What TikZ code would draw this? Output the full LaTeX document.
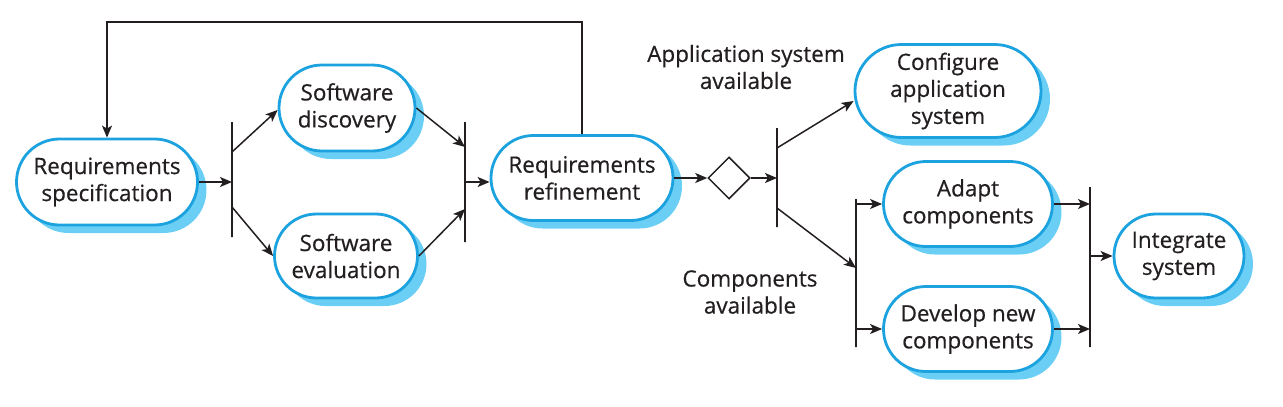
\documentclass[tikz,border=0pt]{standalone}
\usepackage{fontspec}
\setmainfont{Open Sans}
\newfontfamily\pf{Open Sans}[FakeBold=0.5]
\usetikzlibrary{shapes.misc,shapes.geometric,shadows,arrows.meta}
\definecolor{pillblue}{HTML}{1CA3DF}
\definecolor{shadblue}{HTML}{6BCEF5}
\definecolor{ink}{HTML}{231F20}
\tikzset{
  pill/.style={rounded rectangle, draw=pillblue, line width=2.8pt, fill=white,
    align=center, inner sep=0pt, text=ink,
    font=\pf\fontsize{22.5}{27}\selectfont,
    drop shadow={shadow xshift=9pt, shadow yshift=-8pt, fill=shadblue, opacity=1}},
  barnode/.style={draw=ink, line width=1.5pt, inner sep=0pt, outer sep=0pt,
    minimum width=0pt, minimum height=#1},
  arr/.style={draw=ink, line width=1.5pt, -{Stealth[length=12pt,width=10pt,inset=3pt]}},
  lab/.style={align=center, text=ink, font=\pf\fontsize{22.5}{27}\selectfont}
}
\begin{document}
\begin{tikzpicture}[x=1pt,y=-1pt]
\useasboundingbox (0,0) rectangle (1283,407);
% nodes
\node[pill, minimum width=181pt, minimum height=86pt] (rs) at (107,182) {Requirements\\specification};
\node[pill, minimum width=136pt, minimum height=86pt] (sd) at (347,108) {Software\\discovery};
\node[pill, minimum width=143pt, minimum height=84pt] (se) at (346,256) {Software\\evaluation};
\node[pill, minimum width=182pt, minimum height=85pt] (rr) at (582,178) {Requirements\\refinement};
\node[diamond, draw=ink, line width=1.5pt, fill=white, inner sep=0pt, minimum width=42pt, minimum height=42pt] (dm) at (729,178) {};
\node[pill, minimum width=186pt, minimum height=93pt] (ca) at (948,91) {Configure\\application\\system};
\node[pill, minimum width=169pt, minimum height=85pt] (ac) at (968,204) {Adapt\\components};
\node[pill, minimum width=169pt, minimum height=85pt] (dc) at (968,329) {Develop new\\components};
\node[pill, minimum width=130pt, minimum height=84pt] (is) at (1179,256) {Integrate\\system};
% bars
\node[barnode=115pt] (b1) at (232,179.5) {};
\node[barnode=120pt] (b2) at (465,182) {};
\node[barnode=99pt] (b3) at (777,177.5) {};
\node[barnode=148pt] (b4) at (856,273) {};
\node[barnode=160pt] (b5) at (1090,267) {};
% labels
\node[lab] (l1) at (746,67) {Application system\\available};
\node[lab] (l2) at (750,292) {Components\\available};
% connectors
\draw[arr] (rs.east) -- (rs.east -| b1.center);
\draw[arr] ([yshift=27.5pt]b1.center) -- ([yshift=-2pt]sd.west);
\draw[arr] ([yshift=-27.5pt]b1.center) -- (se.west);
\draw[arr] (sd.east) -- ([yshift=35pt]b2.center);
\draw[arr] (se.east) -- ([yshift=-27pt]b2.center);
\draw[arr] (b2.center) -- (b2.center -| rr.west);
\draw[arr] (rr.east) -- (dm.west);
\draw[arr] (dm.east) -- (dm.east -| b3.center);
\draw[arr] ([yshift=29.5pt]b3.center) -- ([yshift=-10pt]ca.west);
\draw[arr] ([yshift=-30.5pt]b3.center) -- ([yshift=5pt]b4.center);
\draw[arr] (b4.center |- ac.west) -- (ac.west);
\draw[arr] (b4.center |- dc.west) -- (dc.west);
\draw[arr] (ac.east) -- (ac.east -| b5.center);
\draw[arr] (dc.east) -- (dc.east -| b5.center);
\draw[arr] (b5.center |- is.west) -- (is.west);
\coordinate (top) at (0,22);
\draw[arr] (rr.north) -- (rr.north |- top) -- (rs.north |- top) -- (rs.north);
\end{tikzpicture}
\end{document}
